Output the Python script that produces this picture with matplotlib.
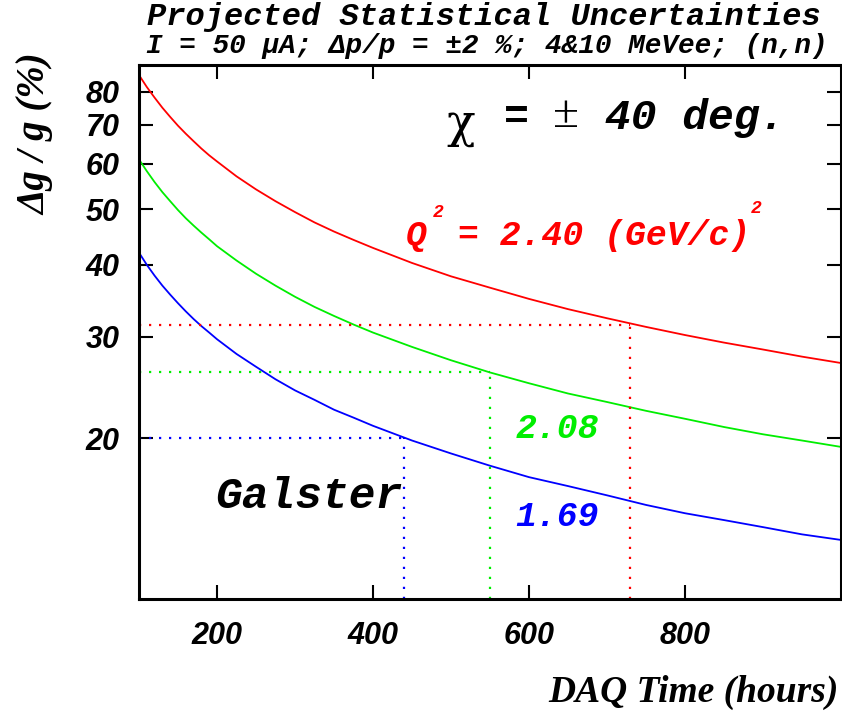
import matplotlib
matplotlib.use("Agg")
import matplotlib.pyplot as plt
from matplotlib.ticker import FixedLocator, NullLocator, NullFormatter
from matplotlib.font_manager import FontProperties

# ---- data ----
hours = [100, 110, 120, 130, 140, 150, 160, 170, 180, 190, 200, 225, 250, 275,
         300, 325, 350, 375, 400, 450, 500, 550, 600, 650, 700, 750, 800, 850,
         900, 950, 1000]
err_240 = [85.5, 81.5, 78.1, 75.0, 72.3, 69.8, 67.6, 65.6, 63.7, 62.0, 60.5,
           57.0, 54.1, 51.6, 49.4, 47.4, 45.7, 44.2, 42.8, 40.3, 38.2, 36.5,
           34.9, 33.5, 32.3, 31.2, 30.2, 29.3, 28.5, 27.7, 27.0]
err_208 = [61.0, 58.2, 55.7, 53.5, 51.6, 49.8, 48.2, 46.8, 45.5, 44.3, 43.1,
           40.7, 38.6, 36.8, 35.2, 33.8, 32.6, 31.5, 30.5, 28.8, 27.3, 26.0,
           24.9, 23.9, 23.1, 22.3, 21.6, 20.9, 20.3, 19.8, 19.3]
err_169 = [42.0, 40.0, 38.3, 36.8, 35.5, 34.3, 33.2, 32.2, 31.3, 30.5, 29.7,
           28.0, 26.6, 25.3, 24.2, 23.3, 22.4, 21.7, 21.0, 19.8, 18.8, 17.9,
           17.1, 16.5, 15.9, 15.3, 14.8, 14.4, 14.0, 13.6, 13.3]
# (hours, error) where each curve reaches its target
mark_240 = (730, 31.5)
mark_208 = (550, 26.0)
mark_169 = (440, 20.0)
xticks = [200, 400, 600, 800]
yticks = [20, 30, 40, 50, 60, 70, 80]

W, H = 842, 717
fig = plt.figure(figsize=(W / 100, H / 100), dpi=100)
ax = fig.add_axes([139 / W, 1 - 599 / H, (841 - 139) / W, (599 - 65) / H])

RED, GREEN, BLUE = "#ff0000", "#00ee00", "#0000ff"
ax.plot(hours, err_240, color=RED, lw=1.3)
ax.plot(hours, err_208, color=GREEN, lw=1.3)
ax.plot(hours, err_169, color=BLUE, lw=1.3)

YMIN, YMAX = 10.5, 89
ax.set_yscale("log")
ax.set_xlim(100, 1000)
ax.set_ylim(YMIN, YMAX)

dot = (0, (1, 3.5))
for (mx, my), c in [(mark_240, RED), (mark_208, GREEN), (mark_169, BLUE)]:
    ax.plot([100, mx], [my, my], color=c, lw=1.6, linestyle=dot)
    ax.plot([mx, mx], [YMIN, my], color=c, lw=1.6, linestyle=dot, clip_on=False)

ax.xaxis.set_major_locator(FixedLocator(xticks))
ax.yaxis.set_major_locator(FixedLocator(yticks))
ax.yaxis.set_minor_locator(NullLocator())
ax.yaxis.set_minor_formatter(NullFormatter())
ax.set_yticklabels([str(v) for v in yticks])
ax.set_xticklabels([str(v) for v in xticks])
ax.tick_params(which="both", direction="in", length=10, width=1.5,
               top=True, right=True)
ax.tick_params(axis="y", pad=14)
ax.tick_params(axis="x", pad=16)
tfp = FontProperties(family="Liberation Sans", weight="bold", style="italic", size=22)
for lab in ax.get_xticklabels() + ax.get_yticklabels():
    lab.set_fontproperties(tfp)
for s in ax.spines.values():
    s.set_linewidth(2.2)

mono = dict(family="Liberation Mono", weight="bold", style="italic")

def px(x, y):
    return x / W, 1 - y / H

fig.text(*px(484, 17), "Projected Statistical Uncertainties", ha="center",
         va="center", size=23, **mono)
fig.text(*px(487, 46), "I = 50 \u03bcA; \u0394p/p = \u00b12 %; 4&10 MeVee; (n,n)",
         ha="center", va="center", size=20, **mono)

fig.text(*px(693, 692), "DAQ Time (hours)", ha="center", va="center", size=27,
         family="Liberation Serif", weight="bold", style="italic")
fig.text(*px(36, 134), "\u0394g / g (%)", ha="center", va="center", size=28,
         rotation=90, family="Liberation Serif", weight="bold", style="italic")

# chi label
fig.text(*px(461, 124), "\u03c7", ha="center", va="center", size=34,
         family="DejaVu Serif")
fig.text(*px(516, 118), "=", ha="center", va="center", size=30, **mono)
fig.text(*px(566, 116), "\u00b1", ha="center", va="center", size=34,
         family="Liberation Serif")
fig.text(*px(605, 118), "40 deg.", ha="left", va="center", size=31, **mono)

# Q^2 label
fig.text(*px(406, 236), "Q", ha="left", va="center", size=25, color=RED, **mono)
fig.text(*px(438, 213), "2", ha="center", va="center", size=13, color=RED, **mono)
fig.text(*px(458, 236), "= 2.40 (GeV/c)", ha="left", va="center",
         size=25, color=RED, **mono)
fig.text(*px(756, 209), "2", ha="center", va="center", size=13, color=RED, **mono)

fig.text(*px(557, 428), "2.08", ha="center", va="center", size=25,
         color=GREEN, **mono)
fig.text(*px(557, 517), "1.69", ha="center", va="center", size=25,
         color=BLUE, **mono)
fig.text(*px(309, 497), "Galster", ha="center", va="center", size=32, **mono)

fig.savefig("out.png", dpi=100)
